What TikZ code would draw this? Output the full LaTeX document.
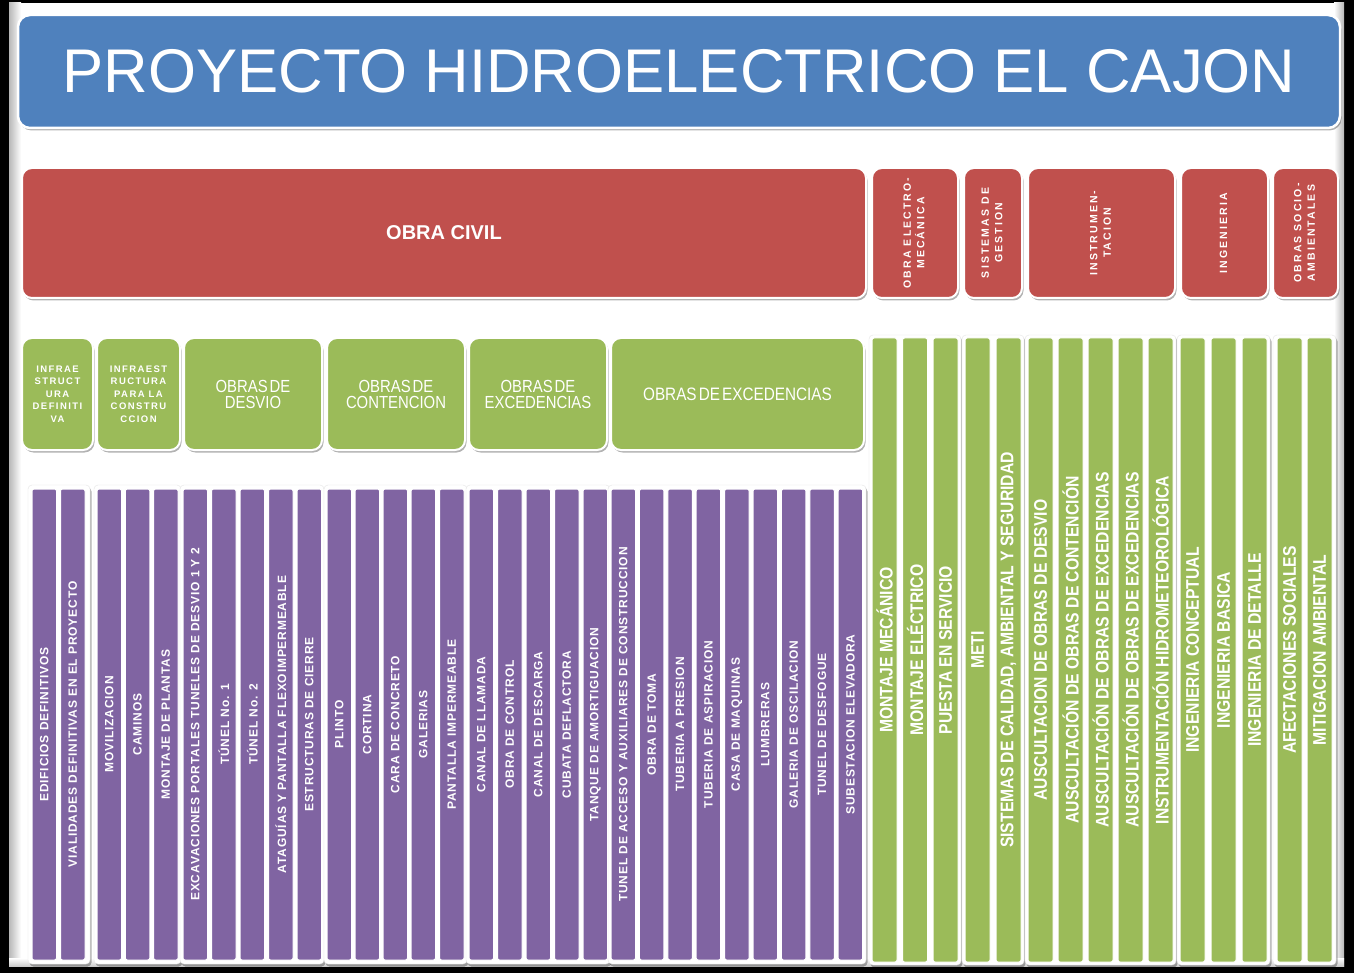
\documentclass[tikz,border=0pt]{standalone}
\usepackage{fontspec}
\setmainfont{Liberation Sans}
\usepackage{graphicx}
\usetikzlibrary{shadows}
\newfontfamily\nrw[FakeStretch=0.85,WordSpace=0.5]{Liberation Sans}
\newfontfamily\nrwb[FakeStretch=0.86]{Liberation Sans Bold}
\newfontfamily\sbold[LetterSpace=7]{Liberation Sans Bold}
\newfontfamily\mbold[LetterSpace=15]{Liberation Sans Bold}
\newfontfamily\wbold[LetterSpace=20]{Liberation Sans Bold}
\definecolor{cblue}{HTML}{4F81BD}
\definecolor{cred}{HTML}{C0504D}
\definecolor{cgreen}{HTML}{9BBB59}
\definecolor{cpurple}{HTML}{8064A2}
\tikzset{
  shd/.style={drop shadow={shadow xshift=1.5pt, shadow yshift=-2.5pt, opacity=0.3, fill=black}},
  blk/.style={rectangle, inner sep=0pt, draw=white, line width=2pt, text=white, align=center, shd},
  titlebox/.style={blk, fill=cblue, rounded corners=12pt, line width=2.5pt},
  redbox/.style={blk, fill=cred, rounded corners=10pt},
  greenhead/.style={blk, fill=cgreen, rounded corners=10pt},
  grpframe/.style={rectangle, inner sep=0pt, fill=white, draw=black!10, line width=0.4pt, rounded corners=4pt, shd},
  pcol/.style={rectangle, inner sep=0pt, fill=cpurple, draw=white, line width=1pt, rounded corners=2pt, text=white},
  gcol/.style={pcol, fill=cgreen},
}
% style, name, x1, y1, x2, y2, text
\newcommand\bx[7]{\node[#1, minimum width={(#5)-(#3)}, minimum height={(#6)-(#4)}] (#2) at ({((#3)+(#5))/2},{((#4)+(#6))/2}) {#7};}
\newcommand\ptxt[1]{\rotatebox{90}{\sbold\fontsize{12}{14}\selectfont #1}}
\newcommand\gtxt[1]{\rotatebox{90}{\nrwb\fontsize{18.3}{20}\selectfont #1}}
\newcommand\rtxt[1]{\rotatebox{90}{\wbold\fontsize{10.5}{13.5}\selectfont\begin{tabular}{@{}c@{}}#1\end{tabular}}}
\newcommand\pc[3]{\bx{pcol}{#1}{#2}{489}{#2+24.5}{960}{\ptxt{#3}}}
\newcommand\gc[3]{\bx{gcol}{#1}{#2}{338}{#2+25}{962}{\gtxt{#3}}}
\begin{document}
\begin{tikzpicture}[x=1pt,y=-1pt]
\useasboundingbox (0,0) rectangle (1354,973);
% panel
\fill[black] (0,0) rectangle (1354,973);
\fill[white] (9,3) rectangle (1344,966);
\shade[left color=black!28, right color=white] (9,3) rectangle (21,966);
\shade[left color=white, right color=black!28] (1334,3) rectangle (1344,966);
\shade[top color=white, bottom color=black!20] (9,958) rectangle (1344,966);

% title
\bx{titlebox}{title}{18}{15}{1340}{128}{\fontsize{61.7}{70}\selectfont PROYECTO HIDROELECTRICO EL CAJON}

% level 1
\bx{redbox}{civil}{22}{168}{866}{298}{\bfseries\fontsize{20}{24}\selectfont OBRA CIVIL}
\bx{redbox}{electro}{872}{168}{958}{298}{\rtxt{OBRA ELECTRO-\\MECÁNICA}}
\bx{redbox}{gestion}{964}{168}{1022}{298}{\rtxt{SISTEMAS DE\\GESTION}}
\bx{redbox}{instr}{1028}{168}{1175}{298}{\rtxt{INSTRUMEN-\\TACION}}
\bx{redbox}{ingen}{1181}{168}{1268}{298}{\rtxt{INGENIERIA}}
\bx{redbox}{socio}{1273}{168}{1338}{298}{\rtxt{OBRAS SOCIO-\\AMBIENTALES}}

% level 2 (obra civil)
\bx{greenhead, font=\mbold\fontsize{9.5}{12.5}\selectfont}{infdef}{22}{338}{93}{450}{INFRAE\\STRUCT\\URA\\DEFINITI\\VA}
\bx{greenhead, font=\mbold\fontsize{9.5}{12.5}\selectfont}{infcon}{97}{338}{180}{450}{INFRAEST\\RUCTURA\\PARA LA\\CONSTRU\\CCION}
\bx{greenhead, font=\nrw\fontsize{17.5}{16}\selectfont}{desvio}{184}{338}{322}{450}{OBRAS DE\\DESVIO}
\bx{greenhead, font=\nrw\fontsize{17.5}{16}\selectfont}{conten}{327}{338}{465}{450}{OBRAS DE\\CONTENCION}
\bx{greenhead, font=\nrw\fontsize{17.5}{16}\selectfont}{exced}{469}{338}{607}{450}{OBRAS DE\\EXCEDENCIAS}
\bx{greenhead, font=\nrw\fontsize{18}{16}\selectfont}{exced2}{611}{338}{864}{450}{OBRAS DE EXCEDENCIAS}

% group frames (purple)
\bx{grpframe}{fp1}{28}{485}{90}{964}{}
\bx{grpframe}{fp2}{94}{485}{181}{964}{}
\bx{grpframe}{fp3}{180}{485}{324}{964}{}
\bx{grpframe}{fp4}{324}{485}{467}{964}{}
\bx{grpframe}{fp5}{466}{485}{610}{964}{}
\bx{grpframe}{fp6}{608}{485}{866}{964}{}
% group frames (green)
\bx{grpframe}{fg1}{869}{335}{961}{965}{}
\bx{grpframe}{fg2}{962}{335}{1024}{965}{}
\bx{grpframe}{fg3}{1025}{335}{1176}{965}{}
\bx{grpframe}{fg4}{1177}{335}{1270}{965}{}
\bx{grpframe}{fg5}{1273}{335}{1336}{965}{}

% purple columns
\pc{p1}{32}{EDIFICIOS DEFINITIVOS}
\pc{p2}{60.5}{VIALIDADES DEFINITIVAS EN EL PROYECTO}
\pc{p3}{97}{MOVILIZACION}
\pc{p4}{125.3}{CAMINOS}
\pc{p5}{153.6}{MONTAJE DE PLANTAS}
\pc{p6}{183}{EXCAVACIONES PORTALES TUNELES DE DESVIO 1 Y 2}
\pc{p7}{211.5}{TÚNEL No. 1}
\pc{p8}{240}{TÚNEL No. 2}
\pc{p9}{268.5}{ATAGUÍAS Y PANTALLA FLEXOIMPERMEABLE}
\pc{p10}{297}{ESTRUCTURAS DE CIERRE}
\pc{p11}{327}{PLINTO}
\pc{p12}{355}{CORTINA}
\pc{p13}{383}{CARA DE CONCRETO}
\pc{p14}{411}{GALERIAS}
\pc{p15}{439.5}{PANTALLA IMPERMEABLE}
\pc{p16}{469}{CANAL DE LLAMADA}
\pc{p17}{497.5}{OBRA DE CONTROL}
\pc{p18}{526}{CANAL DE DESCARGA}
\pc{p19}{554.5}{CUBATA DEFLACTORA}
\pc{p20}{583}{TANQUE DE AMORTIGUACION}
\pc{p21}{611}{TUNEL DE ACCESO Y AUXILIARES DE CONSTRUCCION}
\pc{p22}{639.4}{OBRA DE TOMA}
\pc{p23}{667.8}{TUBERIA A PRESION}
\pc{p24}{696.2}{TUBERIA DE ASPIRACION}
\pc{p25}{724.6}{CASA DE MAQUINAS}
\pc{p26}{753}{LUMBRERAS}
\pc{p27}{781.4}{GALERIA DE OSCILACION}
\pc{p28}{809.8}{TUNEL DE DESFOGUE}
\pc{p29}{838.2}{SUBESTACION ELEVADORA}

% green columns
\gc{g1}{872}{MONTAJE MECÁNICO}
\gc{g2}{902.5}{MONTAJE ELÉCTRICO}
\gc{g3}{933}{PUESTA EN SERVICIO}
\gc{g4}{965}{METI}
\gc{g5}{996}{SISTEMAS DE CALIDAD, AMBIENTAL Y SEGURIDAD}
\gc{g6}{1028}{AUSCULTACION DE OBRAS DE DESVIO}
\gc{g7}{1058}{AUSCULTACIÓN DE OBRAS DE CONTENCIÓN}
\gc{g8}{1088}{AUSCULTACIÓN DE OBRAS DE EXCEDENCIAS}
\gc{g9}{1118}{AUSCULTACIÓN DE OBRAS DE EXCEDENCIAS}
\gc{g10}{1148}{INSTRUMENTACIÓN HIDROMETEOROLÓGICA}
\gc{g11}{1180}{INGENIERIA CONCEPTUAL}
\gc{g12}{1211}{INGENIERIA BASICA}
\gc{g13}{1242}{INGENIERIA DE DETALLE}
\gc{g14}{1277}{AFECTACIONES SOCIALES}
\gc{g15}{1307}{MITIGACION AMBIENTAL}
\end{tikzpicture}
\end{document}
